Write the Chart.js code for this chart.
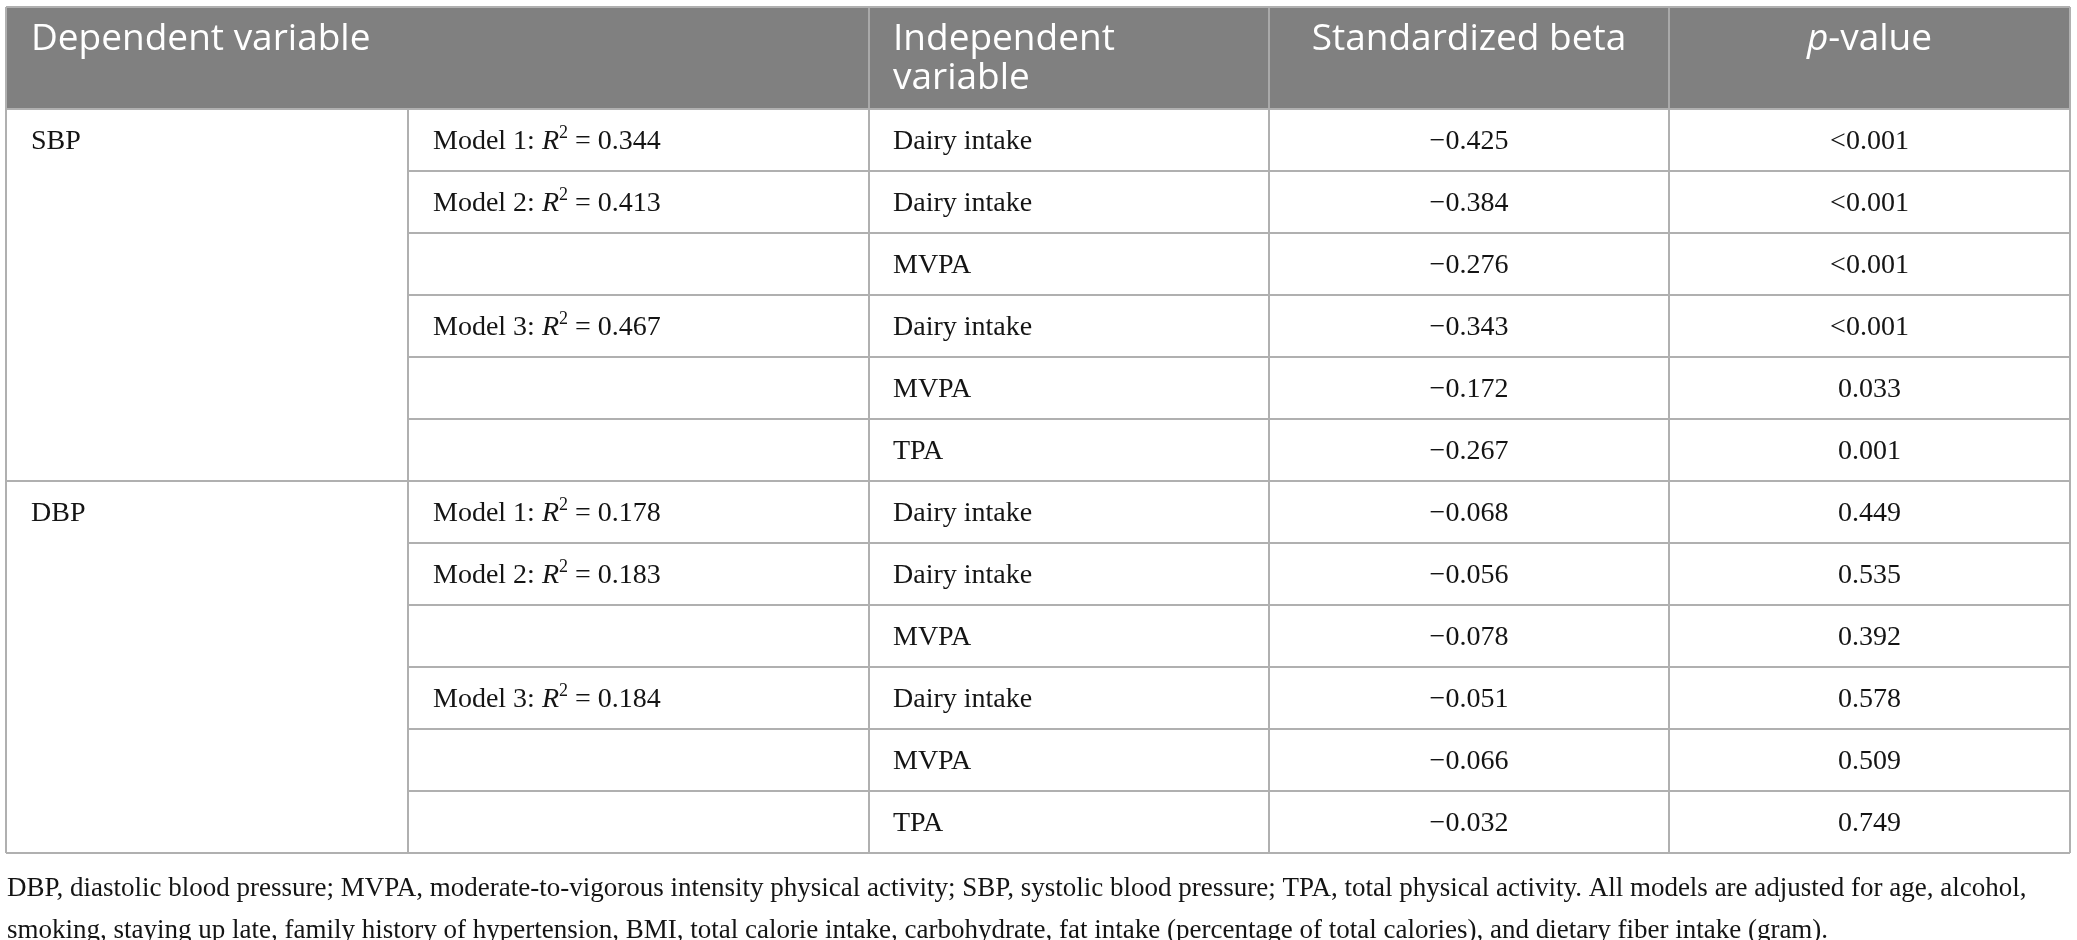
<!DOCTYPE html>
<html>
<head>
<meta charset="utf-8">
<script src="https://cdn.jsdelivr.net/npm/chart.js@4.4.1/dist/chart.umd.min.js"></script>
<style>
html,body{margin:0;padding:0;background:#fff;}
#wrap{width:2077px;height:940px;}
</style>
</head>
<body>
<div id="wrap"><canvas id="chart" width="2077" height="940"></canvas></div>
<script>
// table content
const headers = ["Dependent variable", "Independent variable", "Standardized beta", "p-value"];
const dependents = ["SBP", "DBP"];
const modelOfRow = [1, 2, 2, 3, 3, 3];
const independents = ["Dairy intake", "Dairy intake", "MVPA", "Dairy intake", "MVPA", "TPA"];
const sbpR2 = [0.344, 0.413, 0.467];
const dbpR2 = [0.178, 0.183, 0.184];
const sbpBeta = [-0.425, -0.384, -0.276, -0.343, -0.172, -0.267];
const sbpP = ["<0.001", "<0.001", "<0.001", "<0.001", "0.033", "0.001"];
const dbpBeta = [-0.068, -0.056, -0.078, -0.051, -0.066, -0.032];
const dbpP = ["0.449", "0.535", "0.392", "0.578", "0.509", "0.749"];
const footnote = [
"DBP, diastolic blood pressure; MVPA, moderate-to-vigorous intensity physical activity; SBP, systolic blood pressure; TPA, total physical activity. All models are adjusted for age, alcohol,",
"smoking, staying up late, family history of hypertension, BMI, total calorie intake, carbohydrate, fat intake (percentage of total calories), and dietary fiber intake (gram)."
];

// layout (x units = table pixels, y units = body rows)
const COL_EDGES = [0, 402, 863, 1263, 1663, 2064];
const HEADER_ROWS = 102 / 62;
const HEAD_FONT = "'Open Sans', sans-serif";
const BODY_FONT = "'Liberation Serif', 'Times New Roman', serif";

function fmt(v){
return (v < 0 ? "\u2212" : "") + Math.abs(v).toFixed(3);
}

let rows = [];
[[sbpR2, sbpBeta, sbpP], [dbpR2, dbpBeta, dbpP]].forEach(function(g, gi){
for(let i = 0; i < independents.length; i++){
let m = modelOfRow[i];
let firstOfModel = i == 0 || modelOfRow[i-1] != m;
rows.push({
dep: i == 0 ? dependents[gi] : "",
model: firstOfModel ? [{t:"Model " + m + ": "}, {t:"R", it:true}, {t:"2", sup:true}, {t:" = " + g[0][m-1].toFixed(3)}] : null,
indep: independents[i],
beta: fmt(g[1][i]),
p: g[2][i]
});
}
});
const bodyRows = rows.length;

function partFont(p, size, family){
let s = p.sup ? Math.round(size * 0.66) : size;
return (p.it ? "italic " : "") + s + "px " + family;
}

function drawRich(ctx, parts, x, y, align, size, family){
let w = 0;
parts.forEach(function(p){ ctx.font = partFont(p, size, family); w += ctx.measureText(p.t).width; });
let cx = align == "center" ? x - w/2 : x;
ctx.textAlign = "left";
parts.forEach(function(p){
ctx.font = partFont(p, size, family);
ctx.fillText(p.t, cx, p.sup ? y - size*0.38 : y);
cx += ctx.measureText(p.t).width;
});
}

const tablePlugin = {
id: "table",
afterDraw(chart){
const ctx = chart.ctx;
const xs = chart.scales.x, ys = chart.scales.y;
const px = v => xs.getPixelForValue(v);
const py = v => ys.getPixelForValue(v);
const left = px(0), right = px(COL_EDGES[5]);
const top = py(-HEADER_ROWS), headBot = py(0), bottom = py(bodyRows);

ctx.save();
// header
ctx.fillStyle = "#808080";
ctx.fillRect(left, top, right - left, headBot - top);
ctx.strokeStyle = "#a9a9a9";
ctx.lineWidth = 2;
[2, 3, 4].forEach(function(c){
ctx.beginPath(); ctx.moveTo(px(COL_EDGES[c]), top); ctx.lineTo(px(COL_EDGES[c]), headBot); ctx.stroke();
});

ctx.fillStyle = "#ffffff";
ctx.textBaseline = "alphabetic";
const hy = top + 30 + 13;
drawRich(ctx, [{t:headers[0]}], px(COL_EDGES[0]) + 25, hy, "left", 37, HEAD_FONT);
let ind = headers[1].split(" ");
drawRich(ctx, [{t:ind[0]}], px(COL_EDGES[2]) + 24, hy, "left", 37, HEAD_FONT);
drawRich(ctx, [{t:ind[1]}], px(COL_EDGES[2]) + 24, hy + 39, "left", 37, HEAD_FONT);
drawRich(ctx, [{t:headers[2]}], (px(COL_EDGES[3]) + px(COL_EDGES[4]))/2, hy, "center", 37, HEAD_FONT);
let pv = headers[3].split("-");
drawRich(ctx, [{t:pv[0], it:true}, {t:"-" + pv[1]}], (px(COL_EDGES[4]) + px(COL_EDGES[5]))/2, hy, "center", 37, HEAD_FONT);

// grid
ctx.strokeStyle = "#b0b0b0";
ctx.lineWidth = 2;
for(let r = 0; r <= bodyRows; r++){
let full = r == 0 || r == bodyRows || r % independents.length == 0;
let x0 = full ? left : px(COL_EDGES[1]);
ctx.beginPath(); ctx.moveTo(x0, py(r)); ctx.lineTo(right, py(r)); ctx.stroke();
}
COL_EDGES.forEach(function(e, c){
let y0 = (c == 0 || c == 5) ? top : headBot;
ctx.beginPath(); ctx.moveTo(px(e), y0); ctx.lineTo(px(e), bottom); ctx.stroke();
});
ctx.beginPath(); ctx.moveTo(left, top); ctx.lineTo(right, top); ctx.stroke();

// body
ctx.fillStyle = "#141414";
rows.forEach(function(row, r){
let y = py(r + 0.5) + 9;
if(row.dep) drawRich(ctx, [{t:row.dep}], px(COL_EDGES[0]) + 25, y, "left", 28, BODY_FONT);
if(row.model) drawRich(ctx, row.model, px(COL_EDGES[1]) + 25, y, "left", 28, BODY_FONT);
drawRich(ctx, [{t:row.indep}], px(COL_EDGES[2]) + 24, y, "left", 28, BODY_FONT);
drawRich(ctx, [{t:row.beta}], (px(COL_EDGES[3]) + px(COL_EDGES[4]))/2, y, "center", 28, BODY_FONT);
drawRich(ctx, [{t:row.p}], (px(COL_EDGES[4]) + px(COL_EDGES[5]))/2, y, "center", 28, BODY_FONT);
});

// footnote
footnote.forEach(function(line, i){
drawRich(ctx, [{t:line}], left + 1, bottom + 34 + 42*i + 9, "left", 27, BODY_FONT);
});
ctx.restore();
}
};

new Chart(document.getElementById("chart"), {
type: "scatter",
data: { datasets: [] },
options: {
responsive: false,
devicePixelRatio: 1,
animation: false,
layout: { padding: { top: 7, left: 6, right: 7, bottom: 87 } },
plugins: { legend: { display: false }, tooltip: { enabled: false } },
scales: {
x: { type: "linear", display: false, min: 0, max: COL_EDGES[5] },
y: { type: "linear", display: false, reverse: true, min: -HEADER_ROWS, max: bodyRows }
}
},
plugins: [tablePlugin]
});
</script>
</body>
</html>
